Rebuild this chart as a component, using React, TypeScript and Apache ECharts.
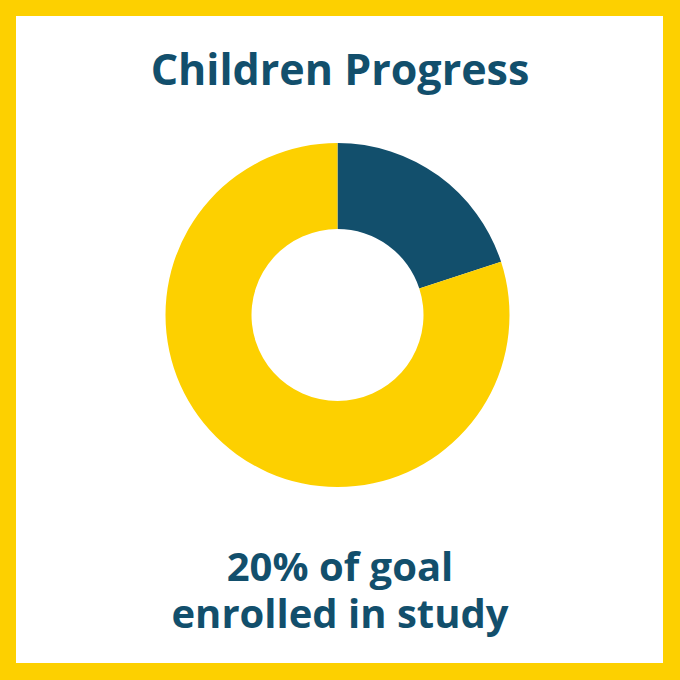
import React, { useEffect, useRef } from "react";
import * as echarts from "echarts";

const categories = ["Enrolled", "Remaining"];
const values = [20, 80];
const colors = ["#124F6C", "#FDD000"];
const titleText = "Children Progress";
const captionLines = ["20% of goal", "enrolled in study"];

export default function App() {
  const ref = useRef<HTMLDivElement>(null);
  useEffect(() => {
    if (!ref.current) return;
    const chart = echarts.init(ref.current, undefined, { renderer: "svg" });
    const font = "'Open Sans', 'Noto Sans', sans-serif";
    chart.setOption({
      animation: false,
      backgroundColor: "#FDD000",
      graphic: [
        {
          type: "rect",
          shape: { x: 16, y: 16, width: 647, height: 647 },
          style: { fill: "#FFFFFF" },
          z: -10,
        },
        {
          type: "text",
          x: 340,
          y: 68,
          style: {
            text: titleText,
            fill: "#124F6C",
            font: `700 43px ${font}`,
            textAlign: "center",
            textVerticalAlign: "middle",
          },
        },
        {
          type: "text",
          x: 340,
          y: 589,
          style: {
            text: captionLines.join("\n"),
            fill: "#124F6C",
            font: `700 40px ${font}`,
            lineHeight: 47,
            textAlign: "center",
            textVerticalAlign: "middle",
          },
        },
      ],
      series: [
        {
          type: "pie",
          center: [337.5, 315],
          radius: [86, 172],
          startAngle: 90,
          clockwise: true,
          label: { show: false },
          labelLine: { show: false },
          emphasis: { disabled: true },
          itemStyle: { borderWidth: 0 },
          data: categories.map((name, i) => ({
            name,
            value: values[i],
            itemStyle: { color: colors[i] },
          })),
        },
      ],
    });
    return () => chart.dispose();
  }, []);
  return (
    <div
      ref={ref}
      style={{ position: "absolute", left: 0, top: 0, width: 680, height: 680 }}
    />
  );
}
